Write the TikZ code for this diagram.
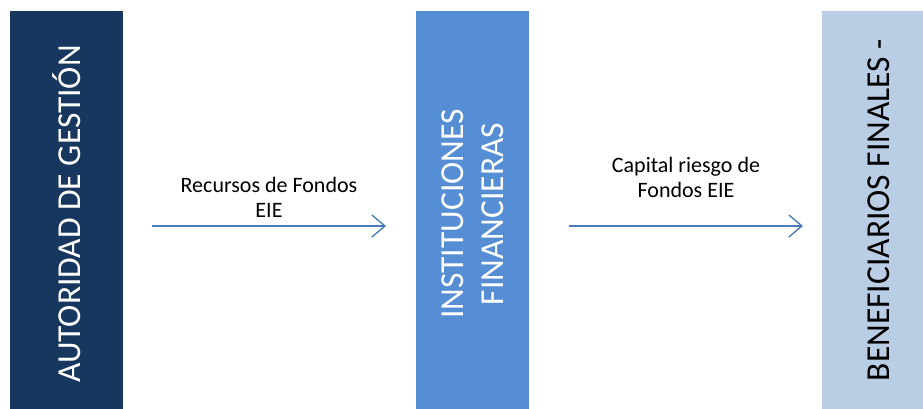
\documentclass[tikz,border=0pt]{standalone}
\usepackage{fontspec}
\setmainfont{Carlito}
\usetikzlibrary{arrows.meta}

\definecolor{navy}{HTML}{17375E}
\definecolor{midblue}{HTML}{558ED5}
\definecolor{paleblue}{HTML}{B9CDE5}
\definecolor{arrowblue}{HTML}{4A7EBB}

\tikzset{
  bar/.style={rotate=90, minimum width=406pt, minimum height=113pt, inner sep=0pt,
    align=center, font=\fontsize{33.5}{40}\selectfont},
  flujo/.style={draw=arrowblue, line width=1.4pt, -{Straight Barb[length=13pt,width=22pt]}},
  rotulo/.style={align=center, font=\fontsize{22}{25}\selectfont}
}

\begin{document}
\begin{tikzpicture}[x=1pt, y=-1pt]
  \useasboundingbox (0,0) rectangle (923,408);

  % bars
  \node[bar, fill=navy, text=white] (autoridad) at (66.5,214) {AUTORIDAD DE GESTIÓN};
  \node[bar, fill=midblue, text=white] (instituciones) at (472.5,214) {INSTITUCIONES\\FINANCIERAS};
  \node[bar, minimum width=398pt, fill=paleblue, text=black] (beneficiarios) at (878.5,210) {BENEFICIARIOS FINALES -};

  % arrows
  \coordinate (r1) at (152,226);
  \coordinate (r2) at (386,226);
  \coordinate (c1) at (569,226);
  \coordinate (c2) at (803,226);
  \draw[flujo] (r1) -- (r2);
  \draw[flujo] (c1) -- (c2);

  \node[rotulo] (recursos) at (269,197) {Recursos de Fondos\\EIE};
  \node[rotulo] (capital) at (686,177) {Capital riesgo de\\Fondos EIE};
\end{tikzpicture}
\end{document}
